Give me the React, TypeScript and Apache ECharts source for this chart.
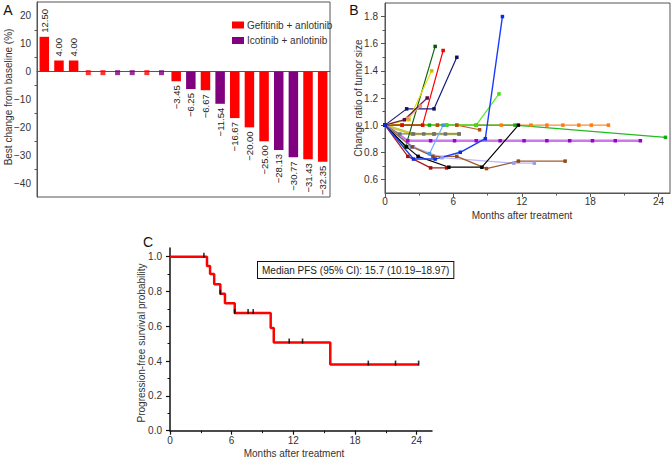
import React, { useEffect, useRef } from 'react';
import * as echarts from 'echarts';

const FONT = '"Liberation Sans", Arial, Helvetica, sans-serif';

// ---------- Panel A: waterfall ----------
const waterfallChanges = [12.5, 4, 4, 0, 0, 0, 0, 0, 0, -3.45, -6.25, -6.67, -11.54, -16.67, -20, -25, -28.13, -30.77, -31.43, -32.35];
const waterfallGroups = ['G', 'G', 'G', 'G', 'G', 'I', 'I', 'G', 'I', 'G', 'I', 'G', 'I', 'G', 'G', 'G', 'I', 'I', 'G', 'G'];
const groupKeys = ['G', 'I'];
const groupNames: Record<string, string> = { G: 'Gefitinib + anlotinib', I: 'Icotinib + anlotinib' };
const groupColors: Record<string, string> = { G: '#ff0000', I: '#800080' };
const aYTicks = [-40, -30, -20, -10, 0, 10, 20];
const aYMinorTicks = [-35, -25, -15, -5, 5, 15];

// ---------- Panel B: spider plot ----------
const tumorMonths = [
  [0, 2.4, 4.3, 6.5],
  [0, 2.0, 4.0, 6.1, 8.0, 10.1, 12.2, 14.2, 16.2, 18.2, 20.2, 22.4],
  [0, 1.3, 2.5, 3.4, 4.3, 5.3, 6.5],
  [0, 1.5, 3.3, 4.6, 6.3, 10.2, 12.8, 14.2, 15.6, 17.0, 18.1, 19.6],
  [0, 4.6, 6.3, 8.3],
  [0, 1.5, 3.9, 5.4, 8.0, 11.4, 24.6],
  [0, 5.4, 8.0, 10.0],
  [0, 1.8, 4.4],
  [0, 1.5, 3.3, 5.1],
  [0, 1.9, 4.3, 6.3],
  [0, 2.1, 4.1],
  [0, 2.0, 3.1],
  [0, 1.7, 3.7],
  [0, 2.3, 3.9, 5.1],
  [0, 2.5, 5.0, 11.3, 13.1],
  [0, 2.4, 4.2, 6.3, 8.9, 11.7, 15.8],
  [0, 2.0, 4.0, 5.4],
  [0, 1.9, 2.9, 5.6, 8.5, 11.7],
  [0, 2.5, 4.4, 6.6, 8.8, 10.3],
];
const tumorRatios = [
  [1, 0.935, 0.935, 0.935],
  [1, 0.885, 0.885, 0.885, 0.885, 0.885, 0.885, 0.885, 0.885, 0.885, 0.885, 0.885],
  [1, 0.935, 0.935, 0.935, 0.935, 0.935, 0.935],
  [1, 1, 1, 1, 1, 1, 1, 1, 1, 1, 1, 1],
  [1, 1, 1, 0.966],
  [1, 1, 1, 1, 1, 1, 0.91],
  [1, 1, 1, 1.23],
  [1, 0.84, 1.58],
  [1, 1, 1, 1.55],
  [1, 1.12, 1.12, 1.5],
  [1, 1.04, 1.4],
  [1, 1.05, 1.14],
  [1, 1.04, 1.2],
  [1, 0.84, 0.79, 1.0],
  [1, 0.84, 0.76, 0.72, 0.72],
  [1, 0.84, 0.77, 0.77, 0.68, 0.735, 0.735],
  [1, 0.77, 0.685, 0.685],
  [1, 0.84, 0.77, 0.69, 0.69, 1.0],
  [1, 0.75, 0.75, 0.8, 0.9, 1.8],
];
const tumorLineColors = ['#c8c83c', '#cc77ee', '#808080', '#ff8c2a', '#c06020', '#22bb22', '#55ee22', '#116611', '#ff0000', '#1a1a7a', '#e8e000', '#f4b47a', '#6a1a5a', '#66b0ff', '#b8b8ff', '#a05a28', '#b01818', '#000000', '#1a3cff'];
const tumorMarkerColors = ['#8a8a20', '#9900cc', '#707070', '#ff7a10', '#b05010', '#11aa11', '#44dd11', '#0a550a', '#ee0000', '#101060', '#c8c000', '#e89a60', '#5a0a4a', '#4a90e0', '#9a9aee', '#904a18', '#a01010', '#000000', '#0a2ce0'];
const tumorLineWidths = [2.5, 2.5, 1.2, 1.2, 1.2, 1.2, 1.2, 1.2, 1.2, 1.2, 1.2, 1.2, 1.2, 1.2, 1.2, 1.2, 1.2, 1.2, 1.4];
const bXTicks = [0, 6, 12, 18, 24];
const bXMinor = [3, 9, 15, 21];
const bYTicks = [0.6, 0.8, 1.0, 1.2, 1.4, 1.6, 1.8];
const bYMinor = [0.7, 0.9, 1.1, 1.3, 1.5, 1.7];

// ---------- Panel C: Kaplan-Meier ----------
const kmTimes = [0, 3.6, 3.9, 4.3, 4.9, 5.35, 6.3, 9.8, 10.1, 15.6, 24.2];
const kmSurvival = [1, 0.947, 0.9, 0.842, 0.787, 0.733, 0.676, 0.59, 0.507, 0.38, 0.38];
const censorTimes = [3.3, 4.9, 6.3, 7.6, 8.1, 11.6, 12.9, 19.3, 21.95, 24.2];
const censorSurvival = [1, 0.787, 0.676, 0.676, 0.676, 0.507, 0.507, 0.38, 0.38, 0.38];
const cXTicks = [0, 6, 12, 18, 24];
const cXMinor = [3, 9, 15, 21];
const cYTicks = [0, 0.2, 0.4, 0.6, 0.8, 1.0];
const cYMinor = [0.1, 0.3, 0.5, 0.7, 0.9];
const medianText = 'Median PFS (95% CI): 15.7 (10.19\u201318.97)';

const AX = '#555';
const TXT = '#333';

function fmt(v: number) {
  return v.toFixed(2).replace('-', '\u2212');
}

function buildOption() {
  const cats = waterfallChanges.map((_, i) => String(i + 1));

  const barSeries = groupKeys.map((g) => ({
    name: groupNames[g],
    type: 'bar',
    xAxisIndex: 0,
    yAxisIndex: 0,
    barWidth: 9.5,
    barGap: '-100%',
    itemStyle: { color: groupColors[g] },
    data: waterfallChanges.map((v, i) => {
      if (waterfallGroups[i] !== g || v === 0) return '-';
      return {
        value: v,
        label:
          v > 0
            ? { show: true, position: 'top', rotate: 90, align: 'left', verticalAlign: 'middle', distance: 4 }
            : { show: true, position: 'bottom', rotate: 90, align: 'right', verticalAlign: 'middle', distance: 4 },
      };
    }),
    label: {
      show: true,
      fontSize: 9.5,
      fontFamily: FONT,
      color: '#222',
      formatter: (p: any) => fmt(p.value),
    },
  }));

  const zeroSeries = groupKeys.map((g) => ({
    name: 'zero-' + g,
    type: 'scatter',
    xAxisIndex: 0,
    yAxisIndex: 0,
    symbol: 'rect',
    symbolSize: [5, 5],
    symbolOffset: [0, 1],
    itemStyle: { color: groupColors[g] },
    data: waterfallChanges.map((v, i) => (waterfallGroups[i] === g && v === 0 ? 0 : '-')),
  }));

  const tumorSeries = tumorMonths.map((months, k) => ({
    name: 'patient-' + (k + 1),
    type: 'line',
    xAxisIndex: 1,
    yAxisIndex: 2,
    symbol: 'rect',
    symbolSize: 3.5,
    showSymbol: true,
    lineStyle: { color: tumorLineColors[k], width: tumorLineWidths[k] },
    itemStyle: { color: tumorMarkerColors[k] },
    data: months.map((m, j) => [m, tumorRatios[k][j]]),
  }));

  const kmSeries = {
    name: 'PFS',
    type: 'line',
    xAxisIndex: 3,
    yAxisIndex: 4,
    step: 'end',
    showSymbol: false,
    symbol: 'none',
    lineStyle: { color: '#ff0000', width: 2.5 },
    data: kmTimes.map((t, i) => [t, kmSurvival[i]]),
  };
  const censorSeries = {
    name: 'censored',
    type: 'scatter',
    xAxisIndex: 3,
    yAxisIndex: 4,
    symbol: 'rect',
    symbolSize: [1.6, 5],
    symbolOffset: [0, -1.5],
    itemStyle: { color: '#000' },
    z: 5,
    data: censorTimes.map((t, i) => [t, censorSurvival[i]]),
  };

  const lbl = (vals: number[], margin: number, fmtr?: any) => ({
    customValues: vals,
    fontSize: 10,
    fontFamily: FONT,
    color: TXT,
    margin,
    formatter: fmtr,
  });

  const minorAxis = (grid: number, min: number, max: number, vals: number[], pos: string, color: string) => ({
    gridIndex: grid,
    type: 'value',
    position: pos,
    min,
    max,
    axisLine: { show: false, onZero: false },
    axisTick: { show: true, customValues: vals, length: 2.5, lineStyle: { color, width: 1 } },
    axisLabel: { show: false },
    splitLine: { show: false },
  });

  return {
    animation: false,
    textStyle: { fontFamily: FONT },
    grid: [
      { left: 37, top: 2, width: 293, height: 195, show: true, borderColor: AX, borderWidth: 1 },
      { left: 385, top: 3, width: 285, height: 190, show: true, borderColor: AX, borderWidth: 1 },
      { left: 170, top: 248, width: 262, height: 182.7, show: false },
    ],
    legend: {
      data: groupKeys.map((g) => ({ name: groupNames[g], icon: 'rect' })),
      orient: 'vertical',
      left: 227,
      top: 14,
      itemWidth: 12,
      itemHeight: 7,
      itemGap: 3.5,
      selectedMode: false,
      textStyle: { fontSize: 10, fontFamily: FONT, color: TXT, lineHeight: 12, padding: [0, 0, 0, -2] },
    },
    xAxis: [
      {
        gridIndex: 0,
        type: 'category',
        data: cats,
        axisLine: { onZero: true, lineStyle: { color: AX, width: 1 } },
        axisTick: { show: false },
        axisLabel: { show: false },
        splitLine: { show: false },
      },
      {
        gridIndex: 1,
        type: 'value',
        position: 'bottom',
        min: 0,
        max: 25,
        axisLine: { onZero: false, lineStyle: { color: AX, width: 1 } },
        axisTick: { customValues: bXTicks, length: 4, lineStyle: { color: AX } },
        axisLabel: lbl(bXTicks, 3),
        splitLine: { show: false },
      },
      minorAxis(1, 0, 25, bXMinor, 'bottom', AX),
      {
        gridIndex: 2,
        type: 'value',
        position: 'bottom',
        min: 0,
        max: 25.5,
        axisLine: { onZero: false, lineStyle: { color: '#111', width: 1.5 } },
        axisTick: { customValues: cXTicks, length: 4, lineStyle: { color: '#111', width: 1.2 } },
        axisLabel: lbl(cXTicks, 5),
        splitLine: { show: false },
      },
      minorAxis(2, 0, 25.5, cXMinor, 'bottom', '#111'),
    ],
    yAxis: [
      {
        gridIndex: 0,
        type: 'value',
        position: 'left',
        min: -45,
        max: 25,
        axisLine: { show: true, onZero: false, lineStyle: { color: AX, width: 1 } },
        axisTick: { customValues: aYTicks, length: 4, lineStyle: { color: AX } },
        axisLabel: lbl(aYTicks, 6, (v: number) => String(v).replace('-', '\u2212')),
        splitLine: { show: false },
      },
      minorAxis(0, -45, 25, aYMinorTicks, 'left', AX),
      {
        gridIndex: 1,
        type: 'value',
        position: 'left',
        min: 0.5,
        max: 1.9,
        axisLine: { show: true, onZero: false, lineStyle: { color: AX, width: 1 } },
        axisTick: { customValues: bYTicks, length: 4, lineStyle: { color: AX } },
        axisLabel: lbl(bYTicks, 7, (v: number) => v.toFixed(1)),
        splitLine: { show: false },
      },
      minorAxis(1, 0.5, 1.9, bYMinor, 'left', AX),
      {
        gridIndex: 2,
        type: 'value',
        position: 'left',
        min: 0,
        max: 1.05,
        axisLine: { show: true, onZero: false, lineStyle: { color: '#111', width: 1.5 } },
        axisTick: { customValues: cYTicks, length: 4, lineStyle: { color: '#111', width: 1.2 } },
        axisLabel: lbl(cYTicks, 8, (v: number) => v.toFixed(1)),
        splitLine: { show: false },
      },
      minorAxis(2, 0, 1.05, cYMinor, 'left', '#111'),
    ],
    graphic: [
      { type: 'text', x: 8, y: 10, style: { text: 'A', fontSize: 14, fontFamily: FONT, fill: '#111', align: 'center', verticalAlign: 'middle' } },
      { type: 'text', x: 354, y: 10, style: { text: 'B', fontSize: 14, fontFamily: FONT, fill: '#111', align: 'center', verticalAlign: 'middle' } },
      { type: 'text', x: 148, y: 242, style: { text: 'C', fontSize: 14, fontFamily: FONT, fill: '#111', align: 'center', verticalAlign: 'middle' } },
      { type: 'text', x: 8, y: 97, rotation: Math.PI / 2, style: { text: 'Best change from baseline (%)', fontSize: 10, fontFamily: FONT, fill: TXT, align: 'center', verticalAlign: 'middle' } },
      { type: 'text', x: 358, y: 98, rotation: Math.PI / 2, style: { text: 'Change ratio of tumor size', fontSize: 10, fontFamily: FONT, fill: TXT, align: 'center', verticalAlign: 'middle' } },
      { type: 'text', x: 522, y: 215, style: { text: 'Months after treatment', fontSize: 10, fontFamily: FONT, fill: TXT, align: 'center', verticalAlign: 'middle' } },
      { type: 'text', x: 141, y: 343, rotation: Math.PI / 2, style: { text: 'Progression-free survival probability', fontSize: 10, fontFamily: FONT, fill: TXT, align: 'center', verticalAlign: 'middle' } },
      { type: 'text', x: 294, y: 453, style: { text: 'Months after treatment', fontSize: 10, fontFamily: FONT, fill: TXT, align: 'center', verticalAlign: 'middle' } },
      {
        type: 'text',
        x: 258,
        y: 262,
        style: {
          text: medianText,
          fontSize: 10,
          fontFamily: FONT,
          fill: '#222',
          align: 'left',
          verticalAlign: 'top',
          padding: [3, 4, 3, 4],
          borderColor: '#111',
          borderWidth: 1,
          backgroundColor: '#fff',
        },
      },
    ],
    series: [...zeroSeries, ...barSeries, ...tumorSeries, kmSeries, censorSeries],
  };
}

export default function App() {
  const ref = useRef<HTMLDivElement>(null);
  useEffect(() => {
    if (!ref.current) return;
    const chart = echarts.init(ref.current, null, { renderer: 'svg' });
    chart.setOption(buildOption() as any);
    return () => chart.dispose();
  }, []);
  return (
    <div
      ref={ref}
      style={{ position: 'fixed', left: 0, top: 0, width: 671, height: 459, background: '#fff' }}
    />
  );
}
